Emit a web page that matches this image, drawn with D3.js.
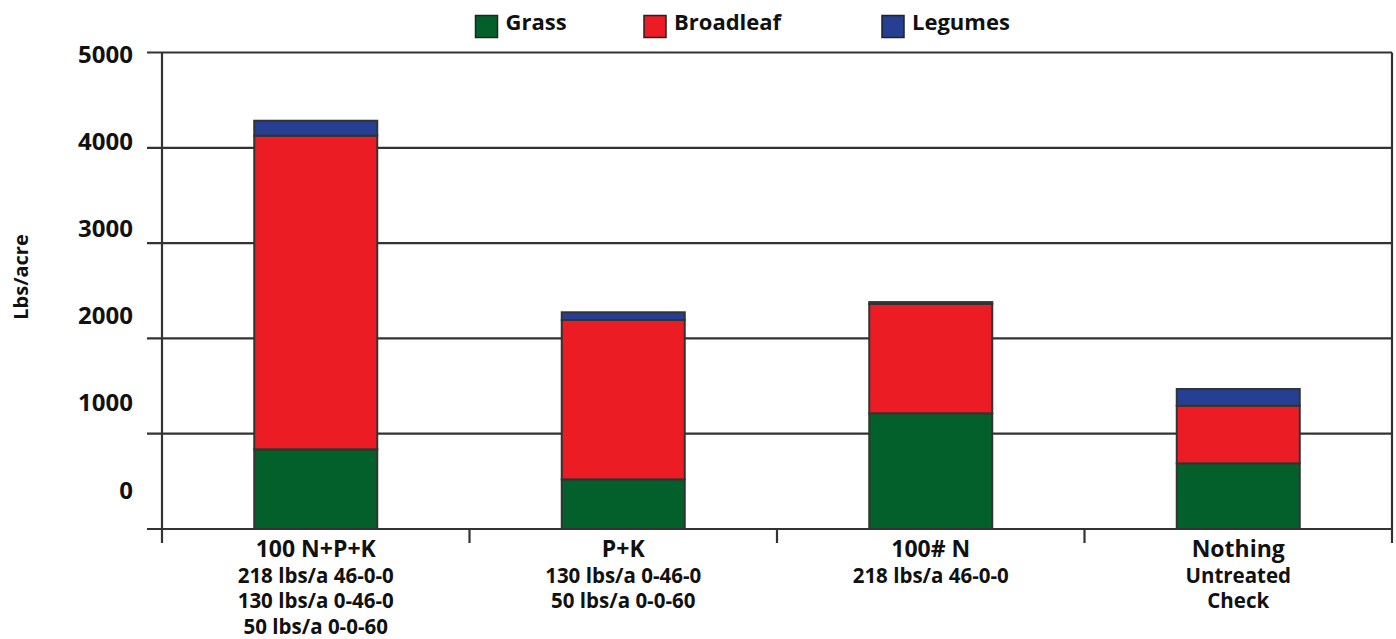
<!DOCTYPE html>
<html>
<head>
<meta charset="utf-8">
<script src="https://cdn.jsdelivr.net/npm/d3@7"></script>
<style>
  html, body { margin: 0; padding: 0; background: #fff; }
  svg { display: block; font-family: "Open Sans", "DejaVu Sans", sans-serif; font-weight: 700; }
</style>
</head>
<body>
<svg id="chart" width="1396" height="639"></svg>
<script>
const categories = ["100 N+P+K", "P+K", "100# N", "Nothing"];
const subLabels = [
  ["218 lbs/a 46-0-0", "130 lbs/a 0-46-0", "50 lbs/a 0-0-60"],
  ["130 lbs/a 0-46-0", "50 lbs/a 0-0-60"],
  ["218 lbs/a 46-0-0"],
  ["Untreated", "Check"]
];
const seriesNames = ["Grass", "Broadleaf", "Legumes"];
const grass = [836, 521, 1214, 689];
const broadleaf = [3291, 1672, 1147, 605];
const legumes = [157, 81, 20, 175];
const yTickValues = [0, 1000, 2000, 3000, 4000, 5000];
const yTitle = "Lbs/acre";

const colors = ["#03602b", "#ec1c24", "#263f92"];
const lineColor = "#333";

const svg = d3.select("#chart");
const plotLeft = 162, plotRight = 1392, plotTop = 52.5, plotBottom = 529;

const x = d3.scaleBand().domain(categories).range([plotLeft, plotRight])
  .paddingInner(0.6).paddingOuter(0.3);
const y = d3.scaleLinear().domain([0, 5000]).range([plotBottom, plotTop]);
// label positions in the original drift from the gridlines
const yLabel = d3.scaleLinear().domain([0, 5000]).range([498, 62.3]);

// gridlines (extend left of the axis as tick marks)
svg.append("g").selectAll("line").data(yTickValues).join("line")
  .attr("x1", plotLeft - 15).attr("x2", plotRight)
  .attr("y1", d => y(d)).attr("y2", d => y(d))
  .attr("stroke", lineColor).attr("stroke-width", 2.2);

// left axis line and right frame line
svg.append("line").attr("x1", plotLeft).attr("x2", plotLeft)
  .attr("y1", y(5000)).attr("y2", plotBottom + 14)
  .attr("stroke", lineColor).attr("stroke-width", 2.2);
svg.append("line").attr("x1", plotRight).attr("x2", plotRight)
  .attr("y1", y(5000)).attr("y2", plotBottom + 14)
  .attr("stroke", lineColor).attr("stroke-width", 2.2);

// category separator ticks
const sepIdx = d3.range(1, categories.length);
svg.append("g").selectAll("line").data(sepIdx).join("line")
  .attr("x1", i => x.range()[0] + i * x.step())
  .attr("x2", i => x.range()[0] + i * x.step())
  .attr("y1", plotBottom).attr("y2", plotBottom + 14)
  .attr("stroke", lineColor).attr("stroke-width", 2.2);

// stacked bars
const rows = categories.map((c, i) => ({ cat: c, Grass: grass[i], Broadleaf: broadleaf[i], Legumes: legumes[i] }));
const stacked = d3.stack().keys(seriesNames)(rows);
svg.append("g").selectAll("g").data(stacked).join("g")
  .attr("fill", (d, i) => colors[i])
  .selectAll("rect").data(d => d).join("rect")
  .attr("x", d => x(d.data.cat))
  .attr("width", x.bandwidth())
  .attr("y", d => y(d[1]))
  .attr("height", d => y(d[0]) - y(d[1]))
  .attr("stroke", "#333").attr("stroke-width", 2);

// y tick labels via axis on the label scale
const yAxis = d3.axisLeft(yLabel).tickValues(yTickValues).tickSize(0).tickPadding(0)
  .tickFormat(d3.format("d"));
const gy = svg.append("g").attr("transform", `translate(133,0)`).call(yAxis);
gy.select(".domain").remove();
gy.selectAll("text").attr("dy", null).attr("fill", "#111")
  .style("font-size", "24px").style("font-family", "'Open Sans', sans-serif").style("font-weight", 700);

// y title
svg.append("text")
  .attr("transform", "translate(28,277) rotate(-90)")
  .attr("text-anchor", "middle")
  .style("font-size", "20px").attr("fill", "#111")
  .text(yTitle);

// category labels
const catG = svg.append("g").selectAll("g").data(categories).join("g")
  .attr("transform", d => `translate(${x(d) + x.bandwidth() / 2},0)`);
catG.append("text").attr("y", 557).attr("text-anchor", "middle")
  .style("font-size", "23px").attr("fill", "#111").text(d => d);
catG.each(function (d, i) {
  d3.select(this).selectAll("text.sub").data(subLabels[i]).join("text")
    .attr("class", "sub")
    .attr("y", (s, j) => 583 + j * 25.3)
    .attr("text-anchor", "middle")
    .style("font-size", "20.5px").attr("fill", "#111")
    .text(s => s);
});

// legend
const legendX = [475.5, 644, 882];
const lg = svg.append("g").selectAll("g").data(seriesNames).join("g")
  .attr("transform", (d, i) => `translate(${legendX[i]},0)`);
lg.append("rect").attr("x", 0).attr("y", 15.5).attr("width", 22).attr("height", 22)
  .attr("fill", (d, i) => colors[i]).attr("stroke", "#222").attr("stroke-width", 1.5);
lg.append("text").attr("x", 30).attr("y", 30)
  .style("font-size", "22px").attr("fill", "#111").text(d => d);
</script>
</body>
</html>
